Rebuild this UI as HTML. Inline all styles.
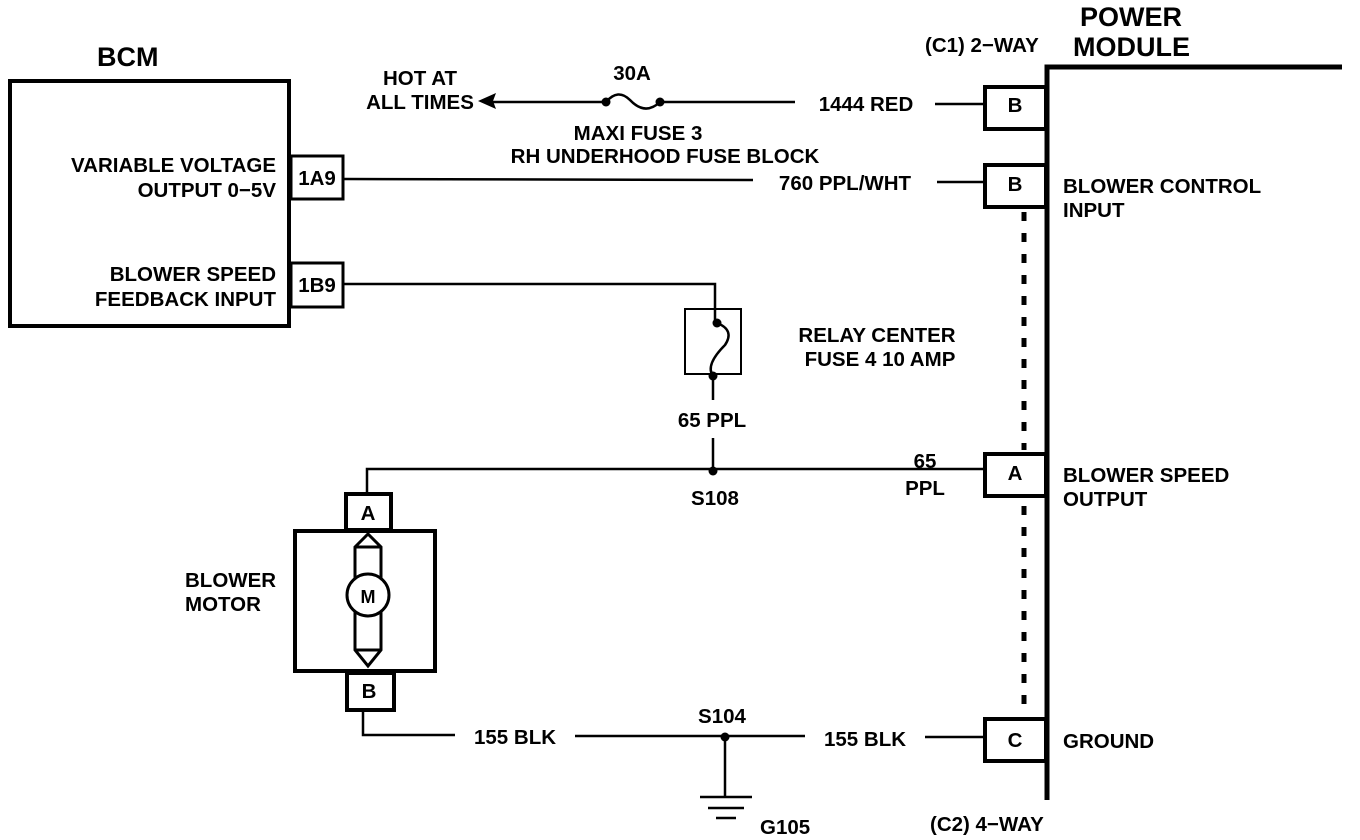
<!DOCTYPE html>
<html><head><meta charset="utf-8"><style>
html,body{margin:0;padding:0;background:#fff;}
svg{display:block;}
text{font-family:"Liberation Sans",Arial,sans-serif;font-weight:bold;font-size:20.5px;fill:#000;}
.h{font-size:27px;}
</style></head><body>
<svg width="1360" height="840" viewBox="0 0 1360 840" xmlns="http://www.w3.org/2000/svg">
<g fill="none" stroke="#000">
<rect x="10" y="81" width="279" height="245" stroke-width="4"/>
<rect x="291" y="156" width="52" height="43" stroke-width="3"/>
<rect x="291" y="263" width="52" height="44" stroke-width="3"/>
<path d="M1047 800 V67 H1342" stroke-width="5"/>
<rect x="985" y="87" width="61" height="42" stroke-width="4"/>
<rect x="985" y="165" width="61" height="42" stroke-width="4"/>
<rect x="985" y="454" width="61" height="42" stroke-width="4"/>
<rect x="985" y="719" width="61" height="42" stroke-width="4"/>
<line x1="1024" y1="212" x2="1024" y2="450" stroke-width="5" stroke-dasharray="9 12"/>
<line x1="1024" y1="506" x2="1024" y2="705" stroke-width="5" stroke-dasharray="9 12"/>
<line x1="490" y1="102" x2="606" y2="102" stroke-width="2.5"/>
<path d="M606 102 Q618 88 630 100 Q645 116 660 102" stroke-width="2.5"/>
<line x1="660" y1="102" x2="795" y2="102" stroke-width="2.5"/>
<line x1="935" y1="104" x2="985" y2="104" stroke-width="2.5"/>
<line x1="344" y1="179" x2="753" y2="180" stroke-width="2.5"/>
<line x1="937" y1="182" x2="985" y2="182" stroke-width="2.5"/>
<path d="M344 284 H715 V323" stroke-width="2.5"/>
<rect x="685" y="309" width="56" height="65" stroke-width="2"/>
<path d="M717 323 Q735 330 725 345 Q705 365 713 376" stroke-width="2.5"/>
<line x1="713" y1="376" x2="713" y2="400" stroke-width="2.5"/>
<line x1="713" y1="438" x2="713" y2="472" stroke-width="2.5"/>
<path d="M367 492 V469 H985" stroke-width="2.5"/>
<rect x="346" y="494" width="45" height="36" stroke-width="4"/>
<rect x="295" y="531" width="140" height="140" stroke-width="4"/>
<rect x="347" y="673" width="47" height="37" stroke-width="4"/>
<path d="M355 547 L368 534 L381 547 V650 L368 666 L355 650 Z" stroke-width="3"/>
<line x1="355" y1="547" x2="381" y2="547" stroke-width="3"/>
<line x1="355" y1="650" x2="381" y2="650" stroke-width="3"/>
<circle cx="368" cy="595" r="21" fill="#fff" stroke-width="3"/>
<path d="M363 711 V735 H455" stroke-width="2.5"/>
<line x1="575" y1="736" x2="805" y2="736" stroke-width="2.5"/>
<line x1="925" y1="737" x2="985" y2="737" stroke-width="2.5"/>
<line x1="725" y1="737" x2="725" y2="797" stroke-width="2.5"/>
<line x1="700" y1="797" x2="752" y2="797" stroke-width="2.5"/>
<line x1="708" y1="808" x2="744" y2="808" stroke-width="2.5"/>
<line x1="716" y1="818" x2="736" y2="818" stroke-width="2.5"/>
</g>
<g fill="#000">
<polygon points="478,101 496,93 493,101 496,109"/>
<circle cx="606" cy="102" r="4.5"/><circle cx="660" cy="102" r="4.5"/>
<circle cx="717" cy="323" r="4.5"/><circle cx="713" cy="376" r="4.5"/>
<circle cx="713" cy="471" r="4.5"/><circle cx="725" cy="737" r="4.5"/>
</g>
<text class="h" x="97" y="66">BCM</text>
<text class="h" x="1080" y="26">POWER</text>
<text class="h" x="1073" y="56">MODULE</text>
<text x="925" y="52">(C1) 2−WAY</text>
<text x="930" y="831">(C2) 4−WAY</text>
<text x="276" y="172" text-anchor="end">VARIABLE VOLTAGE</text>
<text x="276" y="197" text-anchor="end">OUTPUT 0−5V</text>
<text x="276" y="281" text-anchor="end">BLOWER SPEED</text>
<text x="276" y="306" text-anchor="end">FEEDBACK INPUT</text>
<text x="317" y="185" text-anchor="middle">1A9</text>
<text x="317" y="292" text-anchor="middle">1B9</text>
<text x="420" y="85" text-anchor="middle">HOT AT</text>
<text x="420" y="109" text-anchor="middle">ALL TIMES</text>
<text x="632" y="80" text-anchor="middle">30A</text>
<text x="638" y="140" text-anchor="middle">MAXI FUSE 3</text>
<text x="665" y="163" text-anchor="middle">RH UNDERHOOD FUSE BLOCK</text>
<text x="866" y="111" text-anchor="middle">1444 RED</text>
<text x="845" y="190" text-anchor="middle">760 PPL/WHT</text>
<text x="1015" y="112" text-anchor="middle">B</text>
<text x="1015" y="191" text-anchor="middle">B</text>
<text x="1015" y="480" text-anchor="middle">A</text>
<text x="1015" y="747" text-anchor="middle">C</text>
<text x="1063" y="193">BLOWER CONTROL</text>
<text x="1063" y="217">INPUT</text>
<text x="1063" y="482">BLOWER SPEED</text>
<text x="1063" y="506">OUTPUT</text>
<text x="1063" y="748">GROUND</text>
<text x="877" y="342" text-anchor="middle">RELAY CENTER</text>
<text x="880" y="366" text-anchor="middle">FUSE 4 10 AMP</text>
<text x="712" y="427" text-anchor="middle">65 PPL</text>
<text x="925" y="468" text-anchor="middle">65</text>
<text x="925" y="495" text-anchor="middle">PPL</text>
<text x="715" y="505" text-anchor="middle">S108</text>
<text x="368" y="520" text-anchor="middle">A</text>
<text x="369" y="698" text-anchor="middle">B</text>
<text x="368" y="603" text-anchor="middle" style="font-size:18px">M</text>
<text x="185" y="587">BLOWER</text>
<text x="185" y="611">MOTOR</text>
<text x="515" y="744" text-anchor="middle">155 BLK</text>
<text x="865" y="746" text-anchor="middle">155 BLK</text>
<text x="722" y="723" text-anchor="middle">S104</text>
<text x="760" y="834">G105</text>
</svg>
</body></html>
